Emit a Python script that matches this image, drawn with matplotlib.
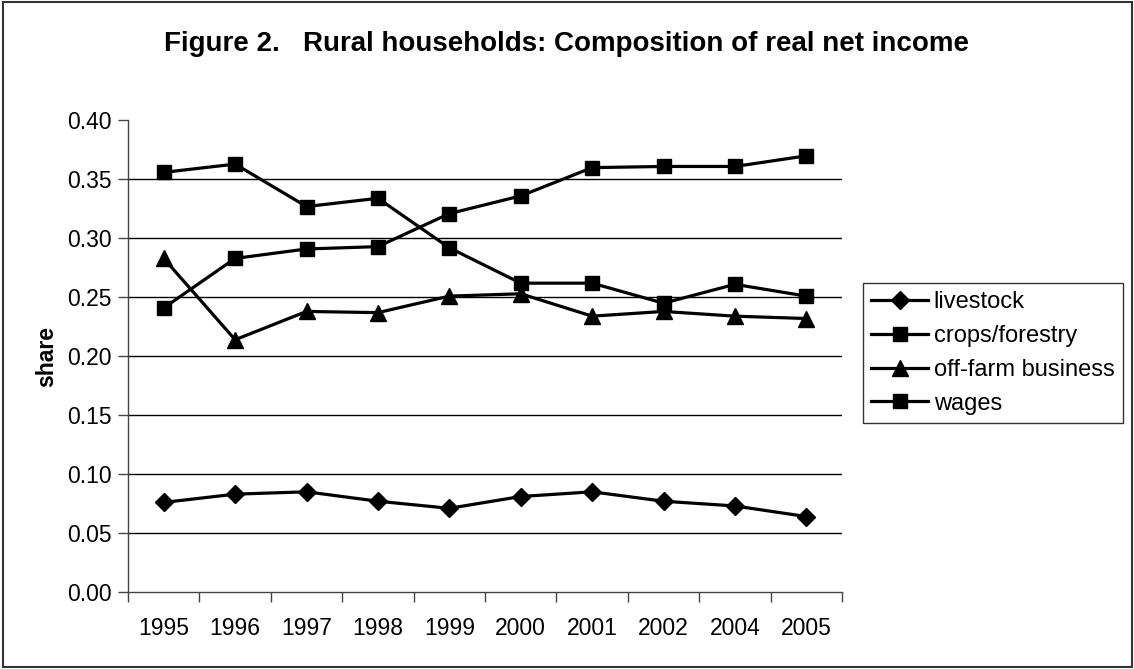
import matplotlib.pyplot as plt
import numpy as np
from matplotlib.patches import Rectangle

plt.rcParams['font.family'] = ['Liberation Sans', 'DejaVu Sans']

# Data
years = ['1995', '1996', '1997', '1998', '1999', '2000', '2001', '2002', '2004', '2005']
livestock = [0.076, 0.083, 0.085, 0.077, 0.071, 0.081, 0.085, 0.077, 0.073, 0.064]
crops_forestry = [0.356, 0.363, 0.327, 0.334, 0.292, 0.262, 0.262, 0.245, 0.261, 0.251]
off_farm = [0.283, 0.214, 0.238, 0.237, 0.251, 0.253, 0.234, 0.238, 0.234, 0.232]
wages = [0.241, 0.283, 0.291, 0.293, 0.321, 0.336, 0.360, 0.361, 0.361, 0.370]
yticks = [0.00, 0.05, 0.10, 0.15, 0.20, 0.25, 0.30, 0.35, 0.40]

fig = plt.figure(figsize=(11.34, 6.69), dpi=100)
ax = fig.add_axes([0.1129, 0.1151, 0.6296, 0.7048])

x = np.arange(len(years))

# gridlines (Excel style: none on the baseline or the top)
for t in yticks[1:-1]:
    ax.axhline(t, color='black', linewidth=1.0, zorder=1)

style = dict(color='black', linewidth=2.3, zorder=3)
ax.plot(x, livestock, marker='D', markersize=9.5, label='livestock', **style)
ax.plot(x, crops_forestry, marker='s', markersize=10.5, label='crops/forestry', **style)
ax.plot(x, off_farm, marker='^', markersize=11, label='off-farm business', **style)
ax.plot(x, wages, marker='s', markersize=10.5, label='wages', **style)

ax.set_xlim(-0.5, len(years) - 0.5)
ax.set_ylim(0, 0.40)
ax.set_yticks(yticks)
ax.set_yticklabels([f'{t:.2f}' for t in yticks])
ax.set_xticks(x)
ax.set_xticklabels(years)
ax.set_xticks(np.arange(-0.5, len(years)), minor=True)
ax.tick_params(axis='x', which='major', length=0, pad=18, labelsize=16.5)
ax.tick_params(axis='x', which='minor', length=7, width=1, color='#444444')
ax.tick_params(axis='y', length=7, width=1, color='#444444', pad=5, labelsize=16.5)

for side in ['top', 'right']:
    ax.spines[side].set_visible(False)
for side in ['left', 'bottom']:
    ax.spines[side].set_color('#444444')
    ax.spines[side].set_linewidth(1)

ax.set_ylabel('share', fontsize=16.5, fontweight='bold', labelpad=6)

fig.text(0.5, 1 - 51 / 669, 'Figure 2.   Rural households: Composition of real net income',
         ha='center', va='baseline', fontsize=20, fontweight='bold')

leg = ax.legend(loc='upper left', bbox_to_anchor=(863 / 1134, 1 - 283 / 669),
                bbox_transform=fig.transFigure, borderaxespad=0, fontsize=17,
                frameon=True, fancybox=False, edgecolor='black', handlelength=2.4,
                handletextpad=0.25, labelspacing=0.5, borderpad=0.35)
leg.get_frame().set_linewidth(1)

# outer chart border
fig.patches.append(Rectangle((3 / 1134, 2 / 669), 1 - 5 / 1134, 1 - 4 / 669,
                             transform=fig.transFigure, fill=False,
                             edgecolor='#333333', linewidth=1.5))

fig.savefig('out.png', dpi=100)
